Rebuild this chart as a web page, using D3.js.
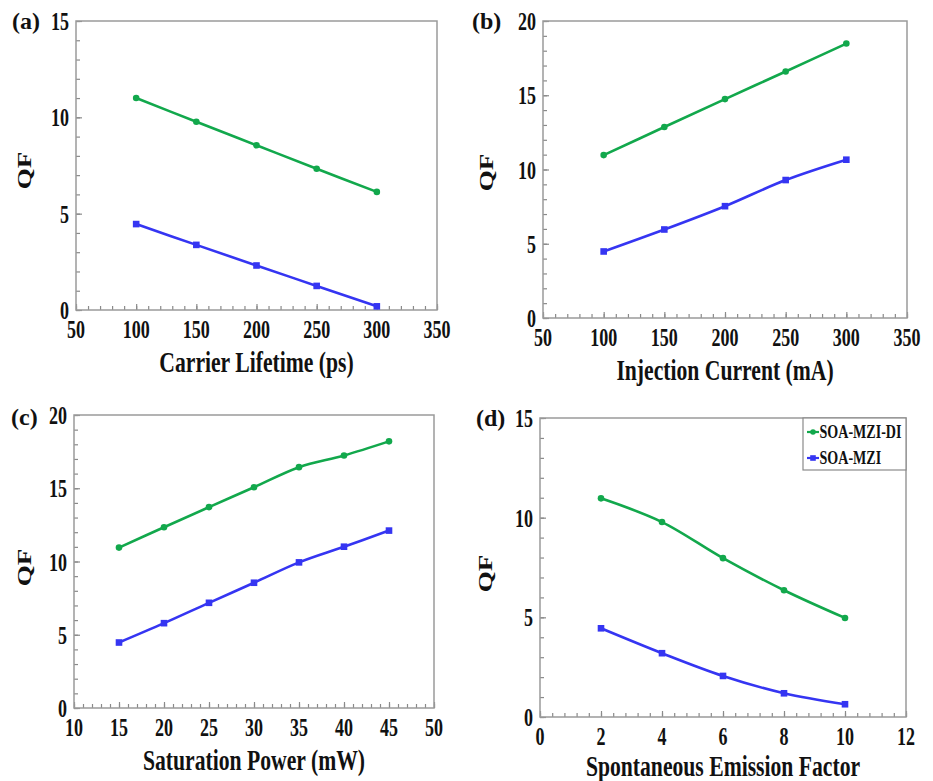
<!DOCTYPE html>
<html>
<head>
<meta charset="utf-8">
<script src="https://cdn.jsdelivr.net/npm/d3@7"></script>
<style>
  html, body { margin: 0; padding: 0; background: #fff; }
  svg { display: block; }
  text { font-family: "Liberation Serif", "Times New Roman", Times, serif; font-weight: bold; fill: #111; }
</style>
</head>
<body>
<svg id="chart" width="933" height="781"></svg>
<script>
// ---------------- data ----------------
const seriesNames = ["SOA-MZI-DI", "SOA-MZI"];

const lifetimeX   = [100, 150, 200, 250, 300];
const lifetimeDI  = [11.0, 9.77, 8.55, 7.33, 6.13];
const lifetimeMZI = [4.46, 3.38, 2.31, 1.25, 0.19];

const currentX    = [100, 150, 200, 250, 300];
const currentDI   = [10.97, 12.86, 14.74, 16.60, 18.48];
const currentMZI  = [4.48, 5.96, 7.53, 9.29, 10.66];

const powerX      = [15, 20, 25, 30, 35, 40, 45];
const powerDI     = [10.95, 12.34, 13.71, 15.07, 16.44, 17.24, 18.20];
const powerMZI    = [4.47, 5.79, 7.18, 8.55, 9.94, 11.01, 12.11];

const emissionX   = [2, 4, 6, 8, 10];
const emissionDI  = [10.97, 9.78, 7.97, 6.36, 4.97];
const emissionMZI = [4.45, 3.20, 2.06, 1.19, 0.64];

const xTicksA = [50, 100, 150, 200, 250, 300, 350];
const xTicksB = [50, 100, 150, 200, 250, 300, 350];
const xTicksC = [10, 15, 20, 25, 30, 35, 40, 45, 50];
const xTicksD = [0, 2, 4, 6, 8, 10, 12];
const yTicksA = [0, 5, 10, 15];
const yTicksB = [0, 5, 10, 15, 20];
const yTicksC = [0, 5, 10, 15, 20];
const yTicksD = [0, 5, 10, 15];

const panelLabels = ["(a)", "(b)", "(c)", "(d)"];
const xTitles = ["Carrier Lifetime (ps)", "Injection Current (mA)", "Saturation Power (mW)", "Spontaneous Emission Factor"];
const yTitle = "QF";

// ---------------- layout ----------------
const GREEN = "#12a84c";
const BLUE = "#3535f2";
const FONT = "'Liberation Serif', 'Times New Roman', Times, serif";

const panels = [
  { box: {l: 76, t: 21, r: 437, b: 310}, x: lifetimeX, di: lifetimeDI, mzi: lifetimeMZI,
    xd: [50, 350], yd: [0, 15], xt: xTicksA, yt: yTicksA, xMinor: 10, yMinor: 1,
    label: panelLabels[0], labelPos: [12, 29], xTitle: xTitles[0], titleOff: 62, qfOff: [-45, 5] },
  { box: {l: 543, t: 21, r: 907, b: 318}, x: currentX, di: currentDI, mzi: currentMZI,
    xd: [50, 350], yd: [0, 20], xt: xTicksB, yt: yTicksB, xMinor: 10, yMinor: 1,
    label: panelLabels[1], labelPos: [472, 29], xTitle: xTitles[1], titleOff: 62, qfOff: [-50, 3] },
  { box: {l: 74, t: 415, r: 434, b: 708}, x: powerX, di: powerDI, mzi: powerMZI,
    xd: [10, 50], yd: [0, 20], xt: xTicksC, yt: yTicksC, xMinor: 1, yMinor: 1,
    label: panelLabels[2], labelPos: [11, 425], xTitle: xTitles[2], titleOff: 62, qfOff: [-43, 6] },
  { box: {l: 540, t: 418, r: 906, b: 717}, x: emissionX, di: emissionDI, mzi: emissionMZI,
    xd: [0, 12], yd: [0, 15], xt: xTicksD, yt: yTicksD, xMinor: 0.4, yMinor: 1,
    label: panelLabels[3], labelPos: [476, 426], xTitle: xTitles[3], titleOff: 59, qfOff: [-48, 6], legend: true }
];

const svg = d3.select("#chart");

function squeezedText(g, x, y, str, size, anchor, sx, rotate) {
  return g.append("text")
    .attr("transform", `translate(${x},${y}) scale(${sx},1)` + (rotate ? " rotate(-90)" : ""))
    .attr("text-anchor", anchor)
    .attr("font-family", FONT)
    .attr("font-weight", "bold")
    .attr("font-size", size)
    .text(str);
}

function range(a, b, step) {
  const out = [];
  const n = Math.round((b - a) / step);
  for (let i = 0; i <= n; i++) out.push(+(a + i * step).toFixed(6));
  return out;
}

panels.forEach(p => {
  const g = svg.append("g");
  const {l, t, r, b} = p.box;
  const x = d3.scaleLinear().domain(p.xd).range([l, r]);
  const y = d3.scaleLinear().domain(p.yd).range([b, t]);

  // minor + major ticks (inside the frame)
  const xMinorTicks = range(p.xd[0], p.xd[1], p.xMinor);
  const yMinorTicks = range(p.yd[0], p.yd[1], p.yMinor);
  const axX = g.append("g").attr("transform", `translate(0,${b})`)
    .call(d3.axisBottom(x).tickValues(xMinorTicks).tickSizeInner(-4).tickSizeOuter(0).tickFormat(""));
  const axXM = g.append("g").attr("transform", `translate(0,${b})`)
    .call(d3.axisBottom(x).tickValues(p.xt).tickSizeInner(-6).tickSizeOuter(0).tickFormat(""));
  const axY = g.append("g").attr("transform", `translate(${l},0)`)
    .call(d3.axisLeft(y).tickValues(yMinorTicks).tickSizeInner(-4).tickSizeOuter(0).tickFormat(""));
  const axYM = g.append("g").attr("transform", `translate(${l},0)`)
    .call(d3.axisLeft(y).tickValues(p.yt).tickSizeInner(-6).tickSizeOuter(0).tickFormat(""));
  [axX, axXM, axY, axYM].forEach(a => {
    a.select(".domain").remove();
    a.selectAll("line").attr("stroke", "#8a8a8a").attr("stroke-width", 1.2);
  });

  // frame
  g.append("rect").attr("x", l).attr("y", t).attr("width", r - l).attr("height", b - t)
    .attr("fill", "none").attr("stroke", "#9a9a9a").attr("stroke-width", 1.5);

  // tick labels
  p.xt.forEach(v => squeezedText(g, x(v), b + 28, String(v), 25, "middle", 0.72));
  p.yt.forEach(v => squeezedText(g, l - 7, y(v) + 9, String(v), 25, "end", 0.72));

  // titles
  squeezedText(g, (l + r) / 2, b + p.titleOff, p.xTitle, 28.5, "middle", 0.76);
  squeezedText(g, l + p.qfOff[0], (t + b) / 2 + p.qfOff[1], yTitle, 27, "middle", 0.72, true);
  g.append("text").attr("x", p.labelPos[0]).attr("y", p.labelPos[1])
    .attr("font-family", FONT).attr("font-weight", "bold")
    .attr("font-size", 24).text(p.label);

  // lines
  const line = d3.line().x(d => x(d[0])).y(d => y(d[1])).curve(d3.curveCatmullRom.alpha(0.5));
  const diPts = p.x.map((v, i) => [v, p.di[i]]);
  const mziPts = p.x.map((v, i) => [v, p.mzi[i]]);
  g.append("path").datum(diPts).attr("d", line).attr("fill", "none")
    .attr("stroke", GREEN).attr("stroke-width", 2.6);
  g.append("path").datum(mziPts).attr("d", line).attr("fill", "none")
    .attr("stroke", BLUE).attr("stroke-width", 2.6);
  g.selectAll(".dot").data(diPts).enter().append("circle")
    .attr("cx", d => x(d[0])).attr("cy", d => y(d[1])).attr("r", 3.3).attr("fill", GREEN);
  g.selectAll(".sq").data(mziPts).enter().append("rect")
    .attr("x", d => x(d[0]) - 3.3).attr("y", d => y(d[1]) - 3.3)
    .attr("width", 6.6).attr("height", 6.6).attr("fill", BLUE);

  if (p.legend) {
    const lg = g.append("g");
    const lx = 803, ly = t;
    lg.append("rect").attr("x", lx).attr("y", ly).attr("width", r - lx).attr("height", 52)
      .attr("fill", "#fff").attr("stroke", "#8a8a8a").attr("stroke-width", 1.2);
    const items = [{name: seriesNames[0], c: GREEN, shape: "circle", yy: ly + 14},
                   {name: seriesNames[1], c: BLUE, shape: "rect", yy: ly + 40}];
    items.forEach(it => {
      lg.append("line").attr("x1", lx + 4).attr("x2", lx + 16).attr("y1", it.yy).attr("y2", it.yy)
        .attr("stroke", it.c).attr("stroke-width", 2.2);
      if (it.shape === "circle") {
        lg.append("circle").attr("cx", lx + 10).attr("cy", it.yy).attr("r", 2.8).attr("fill", it.c);
      } else {
        lg.append("rect").attr("x", lx + 7.2).attr("y", it.yy - 2.8).attr("width", 5.6).attr("height", 5.6).attr("fill", it.c);
      }
      squeezedText(lg, lx + 16.5, it.yy + 6, it.name, 19, "start", 0.74);
    });
  }
});
</script>
</body>
</html>
